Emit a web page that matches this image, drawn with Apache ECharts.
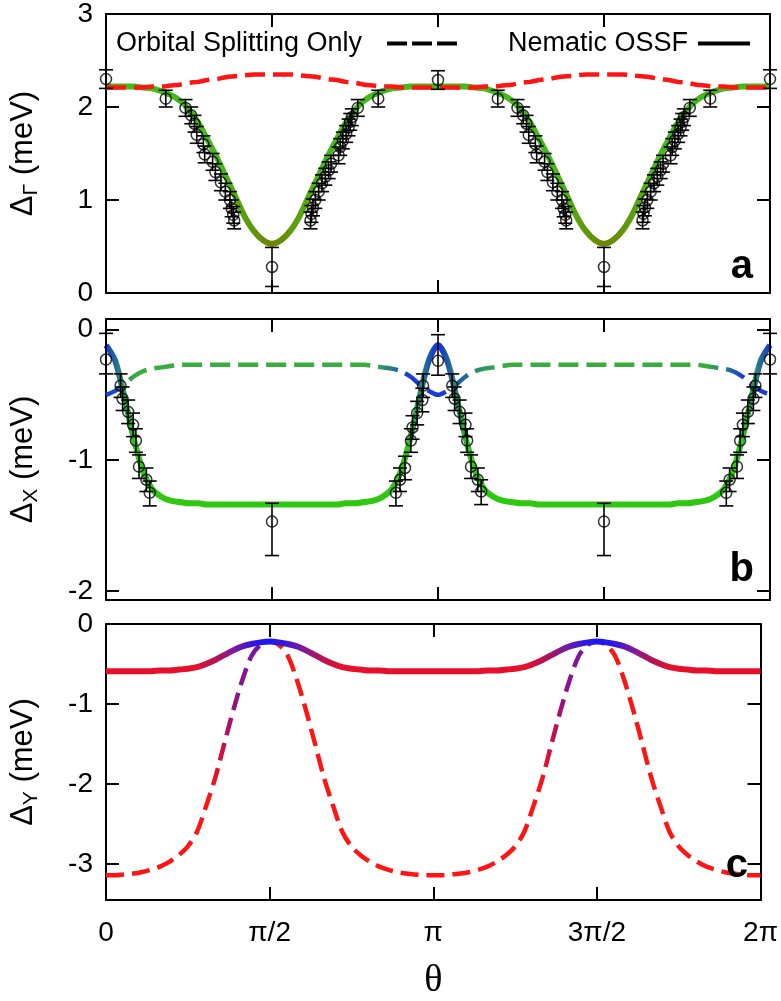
<!DOCTYPE html>
<html>
<head>
<meta charset="utf-8">
<script src="https://cdn.jsdelivr.net/npm/echarts@6.0.0/dist/echarts.min.js"></script>
<style>
  html, body { margin: 0; padding: 0; background: #fff; }
  #chart { width: 781px; height: 1001px; }
</style>
</head>
<body>
<div id="chart"></div>
<script>
// angle grid of the model curves, degrees
var thetaGrid = [0,5,10,15,20,25,30,35,40,45,50,55,60,65,70,75,80,85,90,95,100,105,110,115,120,125,130,135,140,145,150,155,160,165,170,175,180,185,190,195,200,205,210,215,220,225,230,235,240,245,250,255,260,265,270,275,280,285,290,295,300,305,310,315,320,325,330,335,340,345,350,355,360];

// panel a : Delta_Gamma
var gammaNematic = [
  2.22,2.22,2.22,2.22,2.21,2.20,2.17,2.13,2.07,1.97,1.83,1.65,1.46,1.25,1.04,0.83,0.67,0.57,0.53,
  0.57,0.67,0.83,1.04,1.25,1.46,1.65,1.83,1.97,2.07,2.13,2.17,2.20,2.21,2.22,2.22,2.22,2.22,
  2.22,2.22,2.22,2.21,2.20,2.17,2.13,2.07,1.97,1.83,1.65,1.46,1.25,1.04,0.83,0.67,0.57,0.53,
  0.57,0.67,0.83,1.04,1.25,1.46,1.65,1.83,1.97,2.07,2.13,2.17,2.20,2.21,2.22,2.22,2.22,2.22];
var gammaOrbital = [
  2.21,2.21,2.21,2.21,2.21,2.22,2.22,2.23,2.24,2.26,2.27,2.29,2.30,2.32,2.33,2.34,2.35,2.35,2.35,
  2.35,2.35,2.34,2.33,2.32,2.30,2.29,2.27,2.26,2.24,2.23,2.22,2.22,2.21,2.21,2.21,2.21,2.21,
  2.21,2.21,2.21,2.21,2.22,2.22,2.23,2.24,2.26,2.27,2.29,2.30,2.32,2.33,2.34,2.35,2.35,2.35,
  2.35,2.35,2.34,2.33,2.32,2.30,2.29,2.27,2.26,2.24,2.23,2.22,2.22,2.21,2.21,2.21,2.21,2.21];

// panel b : Delta_X
var xNematic = [
  -0.12,-0.24,-0.52,-0.83,-1.08,-1.22,-1.28,-1.31,-1.32,-1.33,-1.33,-1.34,-1.34,-1.34,-1.34,-1.34,-1.34,-1.34,-1.34,
  -1.34,-1.34,-1.34,-1.34,-1.34,-1.34,-1.34,-1.33,-1.33,-1.32,-1.31,-1.28,-1.22,-1.08,-0.83,-0.52,-0.24,-0.12,
  -0.24,-0.52,-0.83,-1.08,-1.22,-1.28,-1.31,-1.32,-1.33,-1.33,-1.34,-1.34,-1.34,-1.34,-1.34,-1.34,-1.34,-1.34,
  -1.34,-1.34,-1.34,-1.34,-1.34,-1.34,-1.34,-1.33,-1.33,-1.32,-1.31,-1.28,-1.22,-1.08,-0.83,-0.52,-0.24,-0.12];
var xOrbital = [
  -0.50,-0.47,-0.42,-0.36,-0.32,-0.30,-0.29,-0.28,-0.27,-0.27,-0.27,-0.27,-0.27,-0.27,-0.27,-0.27,-0.27,-0.27,-0.27,
  -0.27,-0.27,-0.27,-0.27,-0.27,-0.27,-0.27,-0.27,-0.27,-0.27,-0.28,-0.29,-0.30,-0.32,-0.36,-0.42,-0.47,-0.50,
  -0.47,-0.42,-0.36,-0.32,-0.30,-0.29,-0.28,-0.27,-0.27,-0.27,-0.27,-0.27,-0.27,-0.27,-0.27,-0.27,-0.27,-0.27,
  -0.27,-0.27,-0.27,-0.27,-0.27,-0.27,-0.27,-0.27,-0.27,-0.27,-0.28,-0.29,-0.30,-0.32,-0.36,-0.42,-0.47,-0.50];

// panel c : Delta_Y
var yNematic = [
  -0.59,-0.59,-0.59,-0.59,-0.59,-0.59,-0.58,-0.58,-0.57,-0.56,-0.54,-0.50,-0.45,-0.39,-0.33,-0.28,-0.25,-0.23,-0.22,
  -0.23,-0.25,-0.28,-0.33,-0.39,-0.45,-0.50,-0.54,-0.56,-0.57,-0.58,-0.58,-0.59,-0.59,-0.59,-0.59,-0.59,-0.59,
  -0.59,-0.59,-0.59,-0.59,-0.59,-0.58,-0.58,-0.57,-0.56,-0.54,-0.50,-0.45,-0.39,-0.33,-0.28,-0.25,-0.23,-0.22,
  -0.23,-0.25,-0.28,-0.33,-0.39,-0.45,-0.50,-0.54,-0.56,-0.57,-0.58,-0.58,-0.59,-0.59,-0.59,-0.59,-0.59,-0.59];
var yOrbital = [
  -3.14,-3.14,-3.13,-3.12,-3.10,-3.07,-3.03,-2.97,-2.89,-2.78,-2.60,-2.28,-1.93,-1.50,-1.08,-0.70,-0.40,-0.26,-0.22,
  -0.26,-0.40,-0.70,-1.08,-1.50,-1.93,-2.28,-2.60,-2.78,-2.89,-2.97,-3.03,-3.07,-3.10,-3.12,-3.13,-3.14,-3.14,
  -3.14,-3.13,-3.12,-3.10,-3.07,-3.03,-2.97,-2.89,-2.78,-2.60,-2.28,-1.93,-1.50,-1.08,-0.70,-0.40,-0.26,-0.22,
  -0.26,-0.40,-0.70,-1.08,-1.50,-1.93,-2.28,-2.60,-2.78,-2.89,-2.97,-3.03,-3.07,-3.10,-3.12,-3.13,-3.14,-3.14];

// measured points, panel a
var ptATheta = [0,32.4,43.1,46.2,48.0,49.2,52.8,53.5,57.8,59.3,62.3,64.7,67.2,68.1,69.0,69.5,90,
  110.9,111.4,112.2,113.5,115.3,117.1,118.9,120.7,122.0,126.1,127.0,128.4,130.2,131.5,132.4,133.3,136.5,147.6,180,
  212.4,223.1,226.2,228.0,229.2,232.8,233.5,237.8,239.3,242.3,244.7,247.2,248.1,249.0,249.5,270,
  290.9,291.4,292.2,293.5,295.3,297.1,298.9,300.7,302.0,306.1,307.0,308.4,310.2,311.5,312.4,313.3,316.5,327.6,360];
var ptAValue = [2.30,2.09,1.99,1.91,1.82,1.70,1.60,1.49,1.41,1.30,1.19,1.09,1.00,0.91,0.84,0.78,0.28,
  0.78,0.85,0.92,1.00,1.09,1.18,1.25,1.32,1.39,1.48,1.57,1.64,1.71,1.78,1.84,1.89,1.99,2.09,2.29,
  2.09,1.99,1.91,1.82,1.70,1.60,1.49,1.41,1.30,1.19,1.09,1.00,0.91,0.84,0.78,0.28,
  0.78,0.85,0.92,1.00,1.09,1.18,1.25,1.32,1.39,1.48,1.57,1.64,1.71,1.78,1.84,1.89,1.99,2.09,2.30];
var ptAError = [0.10,0.09,0.09,0.09,0.09,0.09,0.09,0.09,0.09,0.09,0.09,0.09,0.09,0.09,0.09,0.09,0.21,
  0.09,0.09,0.09,0.09,0.09,0.09,0.09,0.09,0.09,0.09,0.09,0.09,0.09,0.09,0.09,0.09,0.09,0.09,0.10,
  0.09,0.09,0.09,0.09,0.09,0.09,0.09,0.09,0.09,0.09,0.09,0.09,0.09,0.09,0.09,0.21,
  0.09,0.09,0.09,0.09,0.09,0.09,0.09,0.09,0.09,0.09,0.09,0.09,0.09,0.09,0.09,0.09,0.09,0.09,0.10];

// measured points, panel b
var ptBTheta = [0,7.9,9.0,12.0,14.7,16.2,17.9,21.9,23.7,90,
  157.2,159.4,162.1,165.3,166.2,168.7,171.5,171.9,180,187.7,189.0,191.7,194.9,195.8,197.9,201.6,203.4,270,
  336.3,338.1,342.1,343.8,345.3,348.0,351.0,352.1,360];
var ptBValue = [-0.23,-0.43,-0.53,-0.63,-0.73,-0.85,-1.05,-1.15,-1.25,-1.47,
  -1.25,-1.15,-1.06,-0.85,-0.75,-0.64,-0.54,-0.43,-0.24,-0.43,-0.53,-0.63,-0.73,-0.85,-1.05,-1.15,-1.24,-1.47,
  -1.25,-1.15,-1.05,-0.85,-0.73,-0.63,-0.53,-0.43,-0.23];
var ptBErrDown = [0.11,0.09,0.09,0.09,0.09,0.09,0.09,0.09,0.10,0.26,
  0.10,0.09,0.09,0.09,0.09,0.09,0.09,0.09,0.11,0.09,0.09,0.09,0.09,0.09,0.09,0.09,0.10,0.26,
  0.10,0.09,0.09,0.09,0.09,0.09,0.09,0.09,0.11];
var ptBErrUp = [0.20,0.09,0.09,0.09,0.09,0.09,0.09,0.09,0.09,0.14,
  0.09,0.09,0.09,0.09,0.09,0.09,0.09,0.09,0.20,0.09,0.09,0.09,0.09,0.09,0.09,0.09,0.09,0.14,
  0.09,0.09,0.09,0.09,0.09,0.09,0.09,0.09,0.20];

var xTickLabels = ['0', 'π/2', 'π', '3π/2', '2π'];
var yTicksB = [-2, -1, 0];
var yTicksC = [-3, -2, -1, 0];

var FONT = '"Liberation Sans", Arial, Helvetica, sans-serif';

function pairs(xs, ys) {
  return xs.map(function (x, i) { return [x, ys[i]]; });
}
function withBars(xs, ys, dn, up) {
  return xs.map(function (x, i) { return [x, ys[i], ys[i] - dn[i], ys[i] + up[i]]; });
}
// colour along theta (horizontal gradient over the whole 0..2pi path)
function grad(stops) {
  return new echarts.graphic.LinearGradient(0, 0, 1, 0, stops.map(function (s) {
    return { offset: s[0] / 360, color: s[1] };
  }));
}

function errorBar(params, api) {
  var x = api.value(0);
  var lo = api.coord([x, api.value(2)]);
  var hi = api.coord([x, api.value(3)]);
  var cap = 7;
  var st = { stroke: '#000', lineWidth: 1.6, fill: null };
  return {
    type: 'group',
    children: [
      { type: 'line', shape: { x1: lo[0], y1: lo[1], x2: hi[0], y2: hi[1] }, style: st },
      { type: 'line', shape: { x1: lo[0] - cap, y1: lo[1], x2: lo[0] + cap, y2: lo[1] }, style: st },
      { type: 'line', shape: { x1: hi[0] - cap, y1: hi[1], x2: hi[0] + cap, y2: hi[1] }, style: st }
    ]
  };
}

var grids = [
  { left: 101, right: 11, top: 13, height: 280 },
  { left: 101, right: 11, top: 319, height: 281 },
  { left: 101, right: 11, top: 624, height: 278 }
];
var axisLine = { show: true, onZero: false, lineStyle: { color: '#000', width: 2 } };
var tick = { show: true, inside: true, length: 13, lineStyle: { color: '#000', width: 2 } };

var xAxes = [];
var yAxes = [];
[0, 1, 2].forEach(function (i) {
  var bottom = {
    gridIndex: i, type: 'value', min: 0, max: 360, interval: 90, position: 'bottom',
    axisLine: axisLine, axisTick: tick, splitLine: { show: false },
    axisLabel: { show: false }
  };
  if (i === 2) {
    bottom.axisLabel = {
      show: true, margin: 19, color: '#000', fontSize: 28, fontFamily: FONT,
      formatter: function (v) { return xTickLabels[Math.round(v / 90)]; }
    };
    bottom.name = 'θ';
    bottom.nameLocation = 'middle';
    bottom.nameGap = 62;
    bottom.nameTextStyle = { color: '#000', fontSize: 38, fontFamily: '"Liberation Serif", serif' };
  }
  xAxes.push(bottom);
  xAxes.push({
    gridIndex: i, type: 'value', min: 0, max: 360, interval: 90, position: 'top',
    axisLine: axisLine, axisTick: tick, splitLine: { show: false }, axisLabel: { show: false }
  });
});

var yCfg = [
  { min: 0, max: 3, interval: 1, sub: 'Γ' },
  { min: -2.07, max: 0.08, ticks: yTicksB, sub: 'X' },
  { min: -3.45, max: 0, ticks: yTicksC, sub: 'Y' }
];
yCfg.forEach(function (c, i) {
  var lab = { show: true, margin: 13, color: '#000', fontSize: 28, fontFamily: FONT };
  var tk = echarts.util.clone(tick);
  if (c.ticks) {
    lab.customValues = c.ticks;
    tk.customValues = c.ticks;
  }
  var left = {
    gridIndex: i, type: 'value', min: c.min, max: c.max, position: 'left',
    axisLine: axisLine, axisTick: tk, axisLabel: lab, splitLine: { show: false },
    name: '{d|Δ}{s|' + c.sub + '}{d| (meV)}',
    nameLocation: 'middle', nameRotate: 90, nameGap: 64,
    nameTextStyle: {
      color: '#000', fontSize: 31, fontFamily: FONT,
      rich: {
        d: { fontSize: 31, color: '#000', fontFamily: FONT },
        s: { fontSize: 21, color: '#000', fontFamily: FONT, padding: [16, 0, 0, 0] }
      }
    }
  };
  if (c.interval) left.interval = c.interval;
  var right = {
    gridIndex: i, type: 'value', min: c.min, max: c.max, position: 'right',
    axisLine: axisLine, axisTick: tk, axisLabel: { show: false }, splitLine: { show: false }
  };
  if (c.interval) right.interval = c.interval;
  yAxes.push(left);
  yAxes.push(right);
});

var G = '#46b91a', OL = '#6e8400', MID = '#5aa00c';
var B = '#1030e6', G2 = '#2ec810';
var Bd = '#1a3cd8', Gd = '#38ac3c';
var R = '#e6102c', Bl = '#1818f5';
var Rd = '#ff1414';

var points = { color: 'rgba(0,0,0,0)', borderColor: '#000', borderWidth: 1.5 };

var series = [
  // panel a
  { name: 'Nematic OSSF', type: 'line', xAxisIndex: 0, yAxisIndex: 0, z: 2,
    data: pairs(thetaGrid, gammaNematic), smooth: 0.3, symbol: 'none',
    lineStyle: { width: 6, color: grad([[0, G], [62, G], [76, MID], [90, OL], [104, MID], [118, G], [242, G], [256, MID], [270, OL], [284, MID], [298, G], [360, G]]) } },
  { name: 'Orbital Splitting Only', type: 'line', xAxisIndex: 0, yAxisIndex: 0, z: 3,
    data: pairs(thetaGrid, gammaOrbital), smooth: 0.3, symbol: 'none',
    lineStyle: { width: 4.5, type: [20, 8], color: Rd } },
  { name: 'gamma bars', type: 'custom', xAxisIndex: 0, yAxisIndex: 0, z: 4,
    data: withBars(ptATheta, ptAValue, ptAError, ptAError), renderItem: errorBar, clip: false },
  { name: 'gamma data', type: 'scatter', xAxisIndex: 0, yAxisIndex: 0, z: 5,
    data: pairs(ptATheta, ptAValue), symbol: 'circle', symbolSize: 11, itemStyle: points, clip: false },

  // panel b
  { name: 'X orbital', type: 'line', xAxisIndex: 2, yAxisIndex: 2, z: 2,
    data: pairs(thetaGrid, xOrbital), smooth: 0.3, symbol: 'none',
    lineStyle: { width: 4.5, type: [20, 8], color: grad([[0, Bd], [7, '#1a4cc0'], [12, '#2a8a6a'], [17, Gd], [145, Gd], [155, '#247a8c'], [164, Bd], [186, Bd], [194, '#1f6a98'], [204, '#2a9a5a'], [214, Gd], [325, Gd], [335, '#247a8c'], [344, Bd], [360, Bd]]) } },
  { name: 'X nematic', type: 'line', xAxisIndex: 2, yAxisIndex: 2, z: 3,
    data: pairs(thetaGrid, xNematic), smooth: 0.3, symbol: 'none',
    lineStyle: { width: 6, color: grad([[0, B], [4, '#1a52b0'], [8, '#257888'], [12, '#2aa248'], [17, G2], [163, G2], [168, '#2aa248'], [172, '#257888'], [176, '#1a52b0'], [180, B], [184, '#1a52b0'], [188, '#257888'], [192, '#2aa248'], [197, G2], [343, G2], [348, '#2aa248'], [352, '#257888'], [356, '#1a52b0'], [360, B]]) } },
  { name: 'X bars', type: 'custom', xAxisIndex: 2, yAxisIndex: 2, z: 4,
    data: withBars(ptBTheta, ptBValue, ptBErrDown, ptBErrUp), renderItem: errorBar, clip: false },
  { name: 'X data', type: 'scatter', xAxisIndex: 2, yAxisIndex: 2, z: 5,
    data: pairs(ptBTheta, ptBValue), symbol: 'circle', symbolSize: 11, itemStyle: points, clip: false },

  // panel c
  { name: 'Y orbital', type: 'line', xAxisIndex: 4, yAxisIndex: 4, z: 2,
    data: pairs(thetaGrid, yOrbital), smooth: 0.3, symbol: 'none',
    lineStyle: { width: 4.5, type: [18, 8], color: grad([[0, Rd], [58, Rd], [66, '#c01050'], [72, '#90128a'], [86, '#7018a8'], [91, '#c01040'], [95, Rd], [238, Rd], [246, '#c01050'], [252, '#90128a'], [266, '#7018a8'], [271, '#c01040'], [275, Rd], [360, Rd]]) } },
  { name: 'Y nematic', type: 'line', xAxisIndex: 4, yAxisIndex: 4, z: 3,
    data: pairs(thetaGrid, yNematic), smooth: 0.3, symbol: 'none',
    lineStyle: { width: 6, color: grad([[0, R], [50, R], [62, '#b01458'], [72, '#7a1aa0'], [82, '#3018e0'], [90, Bl], [98, '#3018e0'], [108, '#7a1aa0'], [118, '#b01458'], [130, R], [230, R], [242, '#b01458'], [252, '#7a1aa0'], [262, '#3018e0'], [270, Bl], [278, '#3018e0'], [288, '#7a1aa0'], [298, '#b01458'], [310, R], [360, R]]) } }
];

var letterStyle = { fontSize: 40, fontWeight: 'bold', color: '#000', fontFamily: FONT };

var option = {
  animation: false,
  backgroundColor: '#fff',
  grid: grids,
  xAxis: xAxes,
  yAxis: yAxes,
  title: [
    { text: 'a', right: 28, top: 247, padding: 0, textStyle: letterStyle },
    { text: 'b', right: 27, top: 550, padding: 0, textStyle: letterStyle },
    { text: 'c', right: 33, top: 846, padding: 0, textStyle: letterStyle }
  ],
  legend: [
    { data: [{ name: 'Orbital Splitting Only', icon: 'path://M0 0h20v4h-20z M25 0h20v4h-20z M50 0h20v4h-20z', itemStyle: { color: '#000', borderWidth: 0 } }],
      right: 324, top: 30, padding: 0, align: 'right', itemWidth: 70, itemHeight: 4, selectedMode: false,
      textStyle: { fontSize: 27, color: '#000', fontFamily: FONT, padding: [0, 20, 0, 0] } },
    { data: [{ name: 'Nematic OSSF', icon: 'rect', itemStyle: { color: '#000', borderWidth: 0 } }],
      right: 31, top: 30, padding: 0, align: 'right', itemWidth: 52, itemHeight: 4, selectedMode: false,
      textStyle: { fontSize: 27, color: '#000', fontFamily: FONT, padding: [0, 5, 0, 0] } }
  ],
  series: series
};

var chart = echarts.init(document.getElementById('chart'));
chart.setOption(option);
window.addEventListener('resize', function () { chart.resize(); });
</script>
</body>
</html>
